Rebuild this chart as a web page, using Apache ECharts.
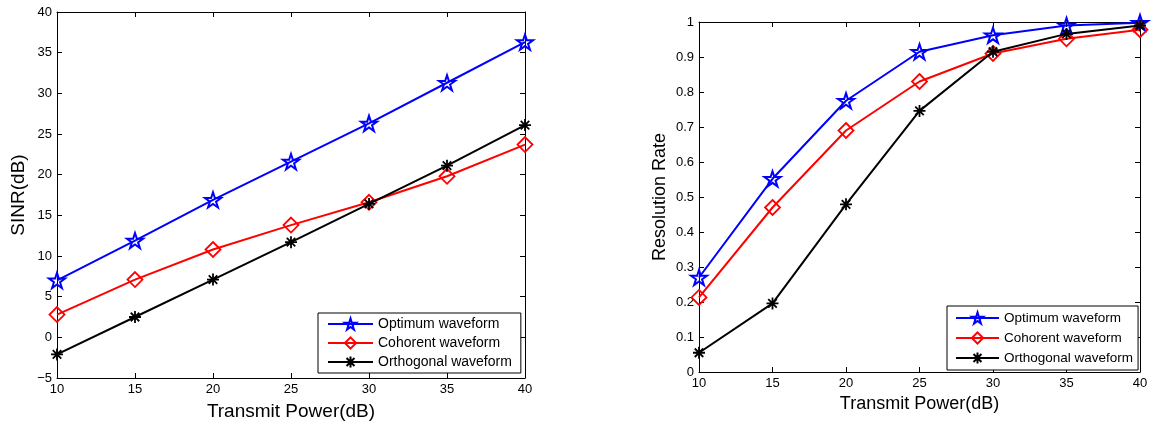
<!DOCTYPE html>
<html>
<head>
<meta charset="utf-8">
<script src="https://cdn.jsdelivr.net/npm/echarts@6/dist/echarts.min.js"></script>
<style>html,body{margin:0;padding:0;background:#fff;}#c{width:1152px;height:426px;}</style>
</head>
<body>
<div id="c"></div>
<script>
// ---- data ----
const powers = [10, 15, 20, 25, 30, 35, 40];
const seriesNames = ['Optimum waveform', 'Cohorent waveform', 'Orthogonal waveform'];
const sinrOptimum    = [7.0, 11.9, 16.9, 21.6, 26.3, 31.3, 36.3];
const sinrCoherent   = [2.8, 7.1, 10.8, 13.8, 16.6, 19.8, 23.7];
const sinrOrthogonal = [-2.1, 2.5, 7.1, 11.7, 16.4, 21.1, 26.1];
const rateOptimum    = [0.27, 0.552, 0.775, 0.915, 0.962, 0.99, 0.998];
const rateCoherent   = [0.213, 0.47, 0.69, 0.83, 0.91, 0.952, 0.978];
const rateOrthogonal = [0.055, 0.196, 0.479, 0.746, 0.915, 0.966, 0.99];
const xTitle = 'Transmit Power(dB)';
const yTitleLeft = 'SINR(dB)';
const yTitleRight = 'Resolution Rate';

const FONT = '"Liberation Sans", Arial, sans-serif';
const STAR = 'path://M0,-1L0.2245,-0.309L0.951,-0.309L0.3633,0.118L0.5878,0.809L0,0.382L-0.5878,0.809L-0.3633,0.118L-0.951,-0.309L-0.2245,-0.309Z';
const DIAM = 'path://M0,-1L1,0L0,1L-1,0Z';
const AST = 'path://M0,-1L0,1M-1,0L1,0M-0.7071,-0.7071L0.7071,0.7071M-0.7071,0.7071L0.7071,-0.7071';
const styles = [
  {color: '#0000ff', symbol: STAR, size: 16, bw: 2},
  {color: '#ff0000', symbol: DIAM, size: 15, bw: 1.8},
  {color: '#000000', symbol: AST, size: 12, bw: 1.8}
];

function pairs(vals) { return powers.map((p, i) => [p, vals[i]]); }

function mkSeries(vals, k, gi) {
  const s = styles[k];
  return {
    type: 'line', name: seriesNames[k],
    xAxisIndex: gi * 2, yAxisIndex: gi * 2,
    data: pairs(vals),
    symbol: s.symbol, symbolSize: s.size, showAllSymbol: true, symbolKeepAspect: true,
    lineStyle: {color: s.color, width: 2},
    itemStyle: {color: 'rgba(255,255,255,0)', borderColor: s.color, borderWidth: s.bw},
    emphasis: {disabled: true},
    z: 3 + k
  };
}

function xAxes(gi, nameGap, nameSize) {
  const base = {
    type: 'value', gridIndex: gi, min: 10, max: 40, interval: 5,
    axisLine: {onZero: false, lineStyle: {color: '#000', width: 1}},
    axisTick: {inside: true, length: 5, lineStyle: {color: '#000'}},
    splitLine: {show: false}
  };
  return [
    Object.assign({}, base, {
      position: 'bottom',
      axisLabel: {color: '#000', fontSize: 13, fontFamily: FONT, margin: 5},
      name: xTitle, nameLocation: 'middle', nameGap: nameGap,
      nameTextStyle: {color: '#000', fontSize: nameSize, fontFamily: FONT}
    }),
    Object.assign({}, base, {position: 'top', axisLabel: {show: false}})
  ];
}

function yAxes(gi, min, max, interval, title, nameGap, nameSize, fmt) {
  const base = {
    type: 'value', gridIndex: gi, min: min, max: max, interval: interval,
    axisLine: {onZero: false, lineStyle: {color: '#000', width: 1}},
    axisTick: {inside: true, length: 5, lineStyle: {color: '#000'}},
    splitLine: {show: false}
  };
  return [
    Object.assign({}, base, {
      position: 'left',
      axisLabel: {color: '#000', fontSize: 13, fontFamily: FONT, margin: 5, formatter: fmt},
      name: title, nameLocation: 'middle', nameGap: nameGap,
      nameTextStyle: {color: '#000', fontSize: nameSize, fontFamily: FONT}
    }),
    Object.assign({}, base, {position: 'right', axisLabel: {show: false}})
  ];
}

const chart = echarts.init(document.getElementById('c'), null, {renderer: 'canvas'});
chart.setOption({
  animation: false,
  backgroundColor: '#ffffff',
  grid: [
    {left: 57, top: 12, width: 468, height: 369},
    {left: 699, top: 22, width: 441, height: 350}
  ],
  xAxis: [].concat(xAxes(0, 24, 19), xAxes(1, 19, 18)),
  yAxis: [].concat(
    yAxes(0, -5, 40, 5, yTitleLeft, 29, 19, v => v < 0 ? '\u2212' + Math.abs(v) : String(v)),
    yAxes(1, 0, 1, 0.1, yTitleRight, 30, 18, v => String(Math.round(v * 10) / 10))
  ),
  legend: [
    {
      data: seriesNames, orient: 'vertical', left: 318, top: 313,
      itemWidth: 45, itemHeight: 14, itemGap: 5,
      padding: [4, 9, 4, 9], borderColor: '#000', borderWidth: 1, backgroundColor: '#fff',
      textStyle: {color: '#000', fontSize: 14, fontFamily: FONT},
      selectedMode: false, z: 10
    },
    {
      data: seriesNames, orient: 'vertical', left: 947, top: 306,
      itemWidth: 43, itemHeight: 14, itemGap: 6,
      padding: [5, 5, 5, 8], borderColor: '#000', borderWidth: 1, backgroundColor: '#fff',
      textStyle: {color: '#000', fontSize: 13.5, fontFamily: FONT},
      selectedMode: false, z: 10
    }
  ],
  series: [
    mkSeries(sinrOptimum, 0, 0), mkSeries(sinrCoherent, 1, 0), mkSeries(sinrOrthogonal, 2, 0),
    mkSeries(rateOptimum, 0, 1), mkSeries(rateCoherent, 1, 1), mkSeries(rateOrthogonal, 2, 1)
  ]
});
</script>
</body>
</html>
